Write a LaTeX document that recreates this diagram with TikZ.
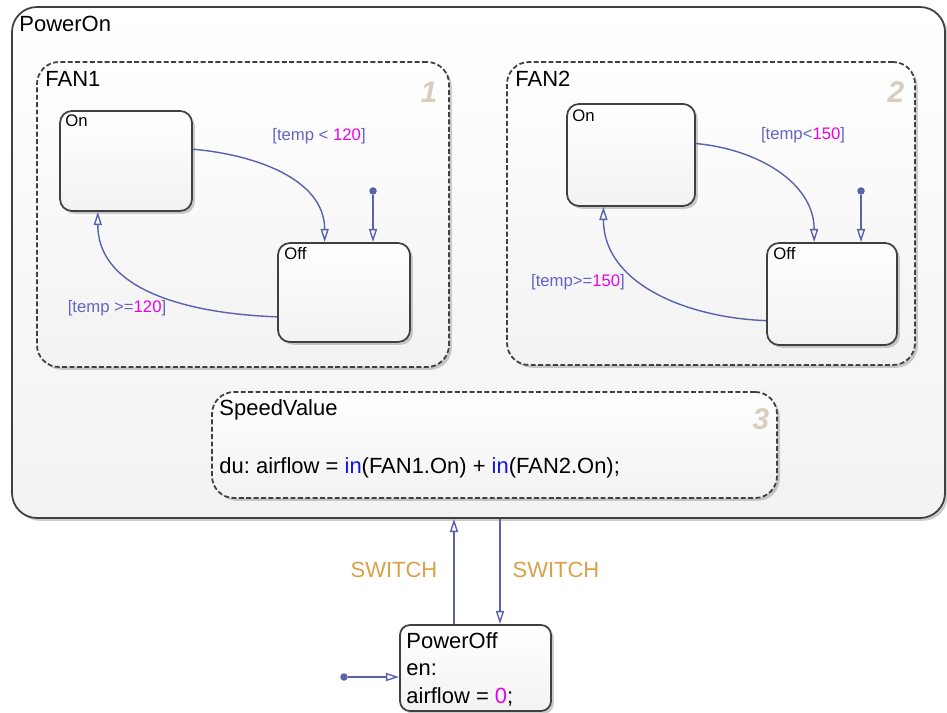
\documentclass[tikz,border=0pt]{standalone}
\usepackage{fontspec}
\setmainfont{Liberation Sans}
\usetikzlibrary{arrows.meta,shadows}
\definecolor{transcol}{RGB}{90,98,170}
\definecolor{guardcol}{RGB}{100,100,195}
\definecolor{numcol}{RGB}{235,0,235}
\definecolor{kwcol}{RGB}{20,20,230}
\definecolor{eventcol}{RGB}{218,160,70}
\definecolor{ordercol}{RGB}{216,206,190}
\frenchspacing

\begin{document}
\begin{tikzpicture}[x=0.2mm, y=0.2mm]
\tikzstyle{every node} = [inner sep=0pt, font=\fontsize{12.5}{15.6}\selectfont]
\tikzstyle{state} = [draw=black!75, line width=1pt, rounded corners=2.4mm, top color=white, bottom color=black!5, drop shadow={opacity=0.4, shadow xshift=1.6pt, shadow yshift=-1.6pt}]
\tikzstyle{group} = [state, dash pattern=on 2.8pt off 1.4pt, rounded corners=4.4mm]
\tikzstyle{title} = [anchor=north west]
\tikzstyle{small} = [anchor=north west, font=\fontsize{9.5}{11}\selectfont]
\tikzstyle{guard} = [text=guardcol, font=\fontsize{9.5}{11}\selectfont]
\tikzstyle{order} = [text=ordercol, font=\fontsize{17}{17}\selectfont\bfseries\itshape]
\tikzstyle{event} = [text=eventcol]
\tikzstyle{dot} = [circle, fill=transcol, minimum size=1.5mm]
\tikzstyle{trans} = [draw=transcol, line width=0.8pt, -{Triangle[open, length=7.5pt, width=4.6pt]}]

\useasboundingbox (0, 0) rectangle (947, -713);

\node [state, rounded corners=5mm, minimum width=186.6mm, minimum height=102.2mm] (PowerOn) at (478.5, -262.5) {};
\node [title] (PowerOnName) at ([shift={(8,-10)}]PowerOn.north west) {PowerOn};

\node [group, minimum width=82.4mm, minimum height=61mm] (FAN1) at (243, -214.5) {};
\node [title] (FAN1Name) at ([shift={(9,-10)}]FAN1.north west) {FAN1};
\node [order] (FAN1Order) at ([shift={(-21,-31)}]FAN1.north east) {1};
\node [state, minimum width=26.4mm, minimum height=20mm] (On1) at (126, -161) {};
\node [small] (On1Name) at ([shift={(6,-4)}]On1.north west) {On};
\node [state, minimum width=26.4mm, minimum height=19.8mm] (Off1) at (344, -292.5) {};
\node [small] (Off1Name) at ([shift={(7,-5)}]Off1.north west) {Off};
\node [dot] (Init1) at (373, -191) {};
\node [guard] (Guard1a) at (319, -136) {[temp < {\color{numcol}120}]};
\node [guard] (Guard1b) at (117, -308) {[temp >={\color{numcol}120}]};

\node [group, minimum width=81.6mm, minimum height=60.6mm] (FAN2) at (711, -213.5) {};
\node [title] (FAN2Name) at ([shift={(9,-10)}]FAN2.north west) {FAN2};
\node [order] (FAN2Order) at ([shift={(-20,-31)}]FAN2.north east) {2};
\node [state, minimum width=25.6mm, minimum height=20.4mm] (On2) at (631, -155) {};
\node [small] (On2Name) at ([shift={(6,-6)}]On2.north west) {On};
\node [state, minimum width=26mm, minimum height=20.4mm] (Off2) at (832, -294) {};
\node [small] (Off2Name) at ([shift={(7,-5)}]Off2.north west) {Off};
\node [dot] (Init2) at (861, -191) {};
\node [guard] (Guard2a) at (803, -135) {[temp<{\color{numcol}150}]};
\node [guard] (Guard2b) at (578, -282) {[temp>={\color{numcol}150}]};

\node [group, minimum width=113mm, minimum height=21.2mm] (SpeedValue) at (494.5, -445) {};
\node [title] (SpeedValueName) at ([shift={(8,-8)}]SpeedValue.north west) {SpeedValue};
\node [anchor=base west] (SpeedValueDu) at ([shift={(8,-28)}]SpeedValue.west) {du: airflow = {\color{kwcol}in}(FAN1.On) + {\color{kwcol}in}(FAN2.On);};
\node [order] (SpeedValueOrder) at ([shift={(-17,-28)}]SpeedValue.north east) {3};

\node [state, rounded corners=2mm, minimum width=30.2mm, minimum height=17.2mm] (PowerOff) at (475.5, -668) {};
\node [title, align=left] (PowerOffName) at ([shift={(7,-8)}]PowerOff.north west) {PowerOff\\en:\\airflow = {\color{numcol}0};};
\node [dot] (Init3) at (344, -677) {};
\coordinate (SwUp) at ([xshift=-4.3mm]PowerOff.north);
\coordinate (SwDown) at ([xshift=4.9mm]PowerOff.north);
\node [event] (SwitchUp) at (394, -570) {SWITCH};
\node [event] (SwitchDown) at (556, -570) {SWITCH};

\draw [trans] (On1.10) to [out=-5, in=90] (Off1.111);
\draw [trans] (Off1.200) to [out=178, in=270] (On1.241);
\draw [trans] (Init1) -- (Init1 |- Off1.north);
\draw [trans] (On2.10) to [out=-5, in=90] (Off2.109);
\draw [trans] (Off2.202) to [out=178, in=270] (On2.242);
\draw [trans] (Init2) -- (Init2 |- Off2.north);
\draw [trans] (SwUp) -- (SwUp |- PowerOn.south);
\draw [trans] (SwDown |- PowerOn.south) -- (SwDown);
\draw [trans] (Init3) -- (Init3 -| PowerOff.west);
\end{tikzpicture}
\end{document}
